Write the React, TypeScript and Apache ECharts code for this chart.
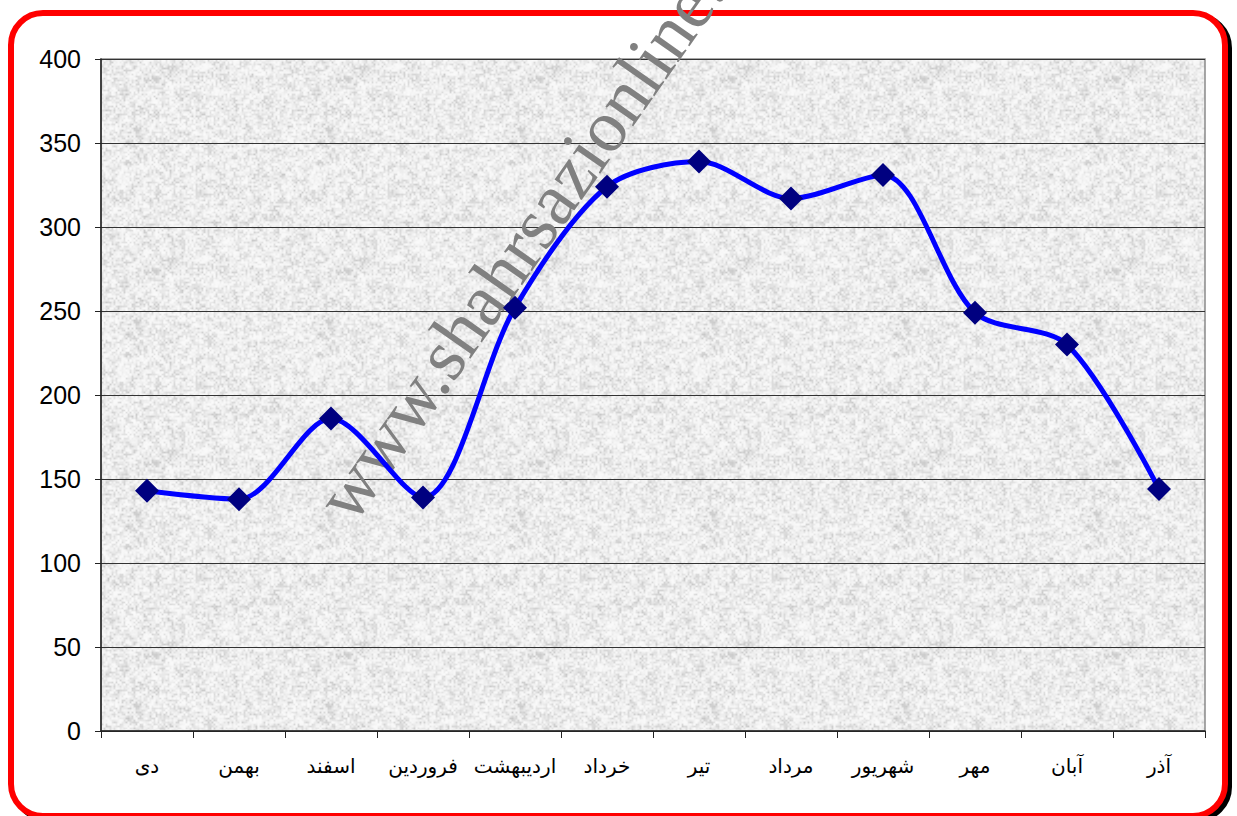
import React, { useEffect, useRef } from "react";
import * as echarts from "echarts";

const months = ["دی", "بهمن", "اسفند", "فروردین", "اردیبهشت", "خرداد", "تیر", "مرداد", "شهریور", "مهر", "آبان", "آذر"];
const values = [143, 138, 186, 139, 252, 324, 339, 317, 331, 249, 230, 144];
const yMin = 0;
const yMax = 400;
const yStep = 50;
const watermark = "www.shahrsazionline.com";

// deterministic mottled texture for the plot-area background (decoration only)
function makeTexture(): string {
  const size = 192;
  const c = document.createElement("canvas");
  c.width = size;
  c.height = size;
  const ctx = c.getContext("2d");
  if (!ctx) return "";
  const img = ctx.createImageData(size, size);
  const h = (i: number, j: number) => {
    const s = Math.sin(i * 127.1 + j * 311.7) * 43758.5453;
    return s - Math.floor(s);
  };
  const noise = (x: number, y: number, cell: number) => {
    const n = size / cell;
    const gx = x / cell;
    const gy = y / cell;
    const x0 = Math.floor(gx);
    const y0 = Math.floor(gy);
    const fx = gx - x0;
    const fy = gy - y0;
    const a = h(x0 % n, y0 % n);
    const b = h((x0 + 1) % n, y0 % n);
    const cc = h(x0 % n, (y0 + 1) % n);
    const d = h((x0 + 1) % n, (y0 + 1) % n);
    const sx = fx * fx * (3 - 2 * fx);
    const sy = fy * fy * (3 - 2 * fy);
    return a * (1 - sx) * (1 - sy) + b * sx * (1 - sy) + cc * (1 - sx) * sy + d * sx * sy;
  };
  for (let y = 0; y < size; y++) {
    for (let x = 0; x < size; x++) {
      const v = 0.65 * noise(x, y, 2) + 0.35 * noise(x + 5, y + 11, 6);
      const g = Math.round(250 - Math.pow(v, 2) * 55);
      const k = (y * size + x) * 4;
      img.data[k] = g;
      img.data[k + 1] = g;
      img.data[k + 2] = g;
      img.data[k + 3] = 255;
    }
  }
  ctx.putImageData(img, 0, 0);
  return c.toDataURL();
}

export default function App() {
  const ref = useRef<HTMLDivElement>(null);
  useEffect(() => {
    const chart = echarts.init(ref.current!, null, { renderer: "svg" });
    const rot = (55 * Math.PI) / 180;
    const tex = makeTexture();
    chart.setOption({
      animation: false,
      backgroundColor: "#ffffff",
      graphic: [
        {
          type: "rect",
          z: -10,
          silent: true,
          shape: { x: 15, y: 16, width: 1214, height: 803, r: 32 },
          style: { fill: "none", stroke: "#000000", lineWidth: 6 },
        },
        {
          type: "rect",
          z: -9,
          silent: true,
          shape: { x: 11, y: 13, width: 1214, height: 803, r: 32 },
          style: { fill: "#ffffff", stroke: "#ff0000", lineWidth: 6 },
        },
        {
          type: "text",
          z: 1,
          silent: true,
          x: 363,
          y: 533,
          rotation: rot,
          style: {
            text: watermark,
            x: 0,
            y: 0,
            align: "left",
            verticalAlign: "bottom",
            fill: "#808080",
            font: '74px "Liberation Serif", "Times New Roman", serif',
          },
        },
      ],
      grid: {
        left: 101,
        right: 32,
        top: 59,
        bottom: 85,
        show: true,
        backgroundColor: tex ? { image: tex, repeat: "repeat" } : "#e6e6e6",
        borderColor: "#8a8a8a",
        borderWidth: 1.5,
      },
      xAxis: {
        type: "category",
        data: months,
        boundaryGap: true,
        axisLine: { show: true, lineStyle: { color: "#222", width: 1.5 } },
        axisTick: { show: true, interval: 0, length: 7, lineStyle: { color: "#222" } },
        axisLabel: {
          interval: 0,
          margin: 25,
          fontSize: 20,
          color: "#000",
          fontFamily: 'Arial, "Liberation Sans", "DejaVu Sans", sans-serif',
        },
        splitLine: { show: false },
      },
      yAxis: {
        type: "value",
        min: yMin,
        max: yMax,
        interval: yStep,
        axisLine: { show: true, lineStyle: { color: "#222", width: 1.5 } },
        axisTick: { show: true, length: 6, lineStyle: { color: "#222" } },
        axisLabel: {
          margin: 20,
          fontSize: 25,
          color: "#000",
          fontFamily: 'Arial, "Liberation Sans", sans-serif',
        },
        splitLine: { show: true, lineStyle: { color: "#333", width: 1 } },
      },
      series: [
        {
          type: "line",
          data: values,
          smooth: 0.3,
          z: 3,
          lineStyle: { color: "#0000ff", width: 5 },
          itemStyle: { color: "#000080" },
          symbol: "diamond",
          symbolSize: 24,
        },
      ],
    });
    return () => chart.dispose();
  }, []);
  return (
    <div
      ref={ref}
      style={{ position: "absolute", left: 0, top: 0, width: 1237, height: 816 }}
    />
  );
}
